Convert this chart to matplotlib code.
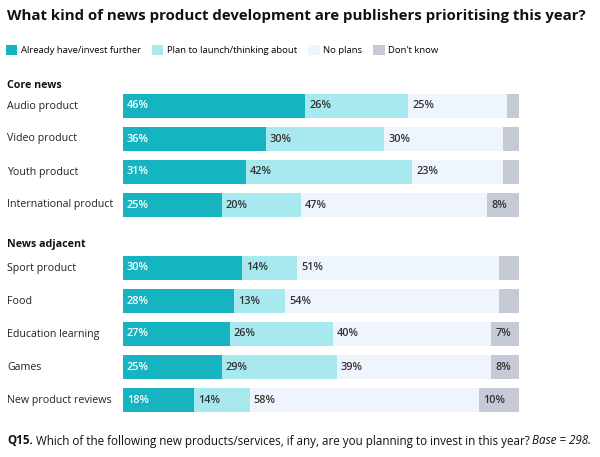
import numpy as np
import matplotlib
matplotlib.use('Agg')
import matplotlib.pyplot as plt
import matplotlib.transforms as mtransforms
from matplotlib.patches import Patch

plt.rcParams['font.family'] = ['Open Sans', 'DejaVu Sans']

# Data
groups = ['Core news', 'News adjacent']
core_items = ['Audio product', 'Video product', 'Youth product', 'International product']
adjacent_items = ['Sport product', 'Food', 'Education learning', 'Games', 'New product reviews']
categories = core_items + adjacent_items

already = [46, 36, 31, 25, 30, 28, 27, 25, 18]
plan = [26, 30, 42, 20, 14, 13, 26, 29, 14]
no_plans = [25, 30, 23, 47, 51, 54, 40, 39, 58]
dont_know = [4, 4, 5, 8, 5, 5, 7, 8, 10]

series_names = ['Already have/invest further', 'Plan to launch/thinking about', 'No plans', "Don't know"]
colors = ['#16b3c1', '#a8e9f0', '#eef5fc', '#c6cad5']
text_colors = ['white', '#333333', '#333333', '#333333']
min_label = [0, 0, 0, 7]  # don't-know only labelled when wide enough

fig = plt.figure(figsize=(6, 4.57), dpi=100)
W, H = 600, 457

# bars run from x=123 to 519 px, plotting area from y=80 to 420 px
ax = fig.add_axes([123 / W, 1 - 420 / H, (519 - 123) / W, 340 / H])
ax.set_xlim(0, 100)
row_px = 33.0
ax.set_ylim((420 - 106) / row_px, (80 - 106) / row_px)
ax.axis('off')

gap = (269 - 206) / row_px - 1
ypos = np.array(list(range(len(core_items))) +
                [len(core_items) + gap + i for i in range(len(adjacent_items))])

data = [already, plan, no_plans, dont_know]
left = np.zeros(len(categories))
for vals, col, tcol, mn in zip(data, colors, text_colors, min_label):
    vals = np.array(vals, dtype=float)
    ax.barh(ypos, vals, left=left, height=0.7, color=col, edgecolor='none')
    for y, l, v in zip(ypos, left, vals):
        if v >= mn:
            ax.text(l + 1.0, y, f'{int(v)}%', ha='left', va='center',
                    fontsize=7.8, color=tcol, fontweight='semibold')
    left = left + vals

trans = mtransforms.blended_transform_factory(fig.transFigure, ax.transData)

# category labels
for y, c in zip(ypos, categories):
    ax.text(7 / W, y, c, transform=trans, ha='left', va='center', fontsize=7.7, color='#222222')

# group headers
ax.text(7 / W, ypos[0] - 0.62, groups[0], transform=trans, ha='left', va='center',
        fontsize=7.7, fontweight='bold', color='#111111')
ax.text(7 / W, ypos[len(core_items)] - 0.7, groups[1], transform=trans, ha='left', va='center',
        fontsize=7.7, fontweight='bold', color='#111111')

# title
fig.text(7 / W, 1 - 16 / H, 'What kind of news product development are publishers prioritising this year?',
         ha='left', va='center', fontsize=10.8, fontweight='bold', color='#111111')

# legend
handles = [Patch(facecolor=c, edgecolor='none') for c in colors]
fig.legend(handles, series_names, loc='center left', bbox_to_anchor=(0.0, 1 - 50 / H),
           ncol=4, frameon=False, fontsize=6.8, handlelength=1.25, handleheight=1.25,
           handletextpad=0.4, columnspacing=1.1, borderaxespad=0.2)

# footer with mixed styles
fig.canvas.draw()
renderer = fig.canvas.get_renderer()
x = 7
pieces = [('Q15.', dict(fontweight='bold')),
          (' Which of the following new products/services, if any, are you planning to invest in this year? ', {}),
          ('Base = 298.', dict(style='italic'))]
for s, kw in pieces:
    t = fig.text(x / W, 1 - 441 / H, s, ha='left', va='center', fontsize=8.4, color='#111111', **kw)
    x += t.get_window_extent(renderer).width

fig.savefig('out.png', dpi=100)
